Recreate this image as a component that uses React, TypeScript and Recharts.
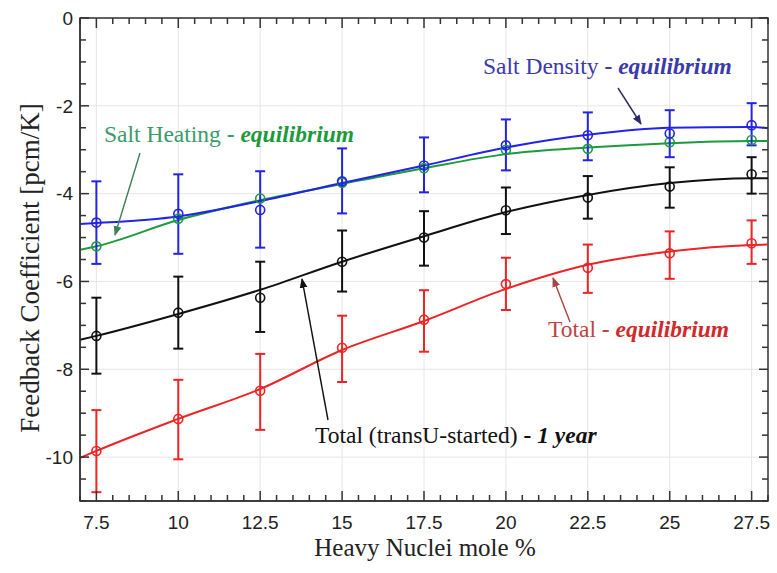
import React from 'react';
import {
  ComposedChart,
  Line,
  Scatter,
  ErrorBar,
  XAxis,
  YAxis,
  CartesianGrid,
  ReferenceArea,
} from 'recharts';

// x positions of the computed cases and of the fitted curves
const pointX = [7.5, 10, 12.5, 15, 17.5, 20, 22.5, 25, 27.5];
const curveX = [7, 7.5, 10, 12.5, 15, 17.5, 20, 22.5, 25, 27.5, 28];

// fitted curves (pcm/K)
const densityFit = [-4.69, -4.67, -4.52, -4.17, -3.76, -3.36, -2.95, -2.66, -2.5, -2.48, -2.51];
const heatingFit = [-5.28, -5.2, -4.6, -4.15, -3.78, -3.42, -3.1, -2.95, -2.85, -2.8, -2.8];
const transUFit = [-7.33, -7.24, -6.74, -6.19, -5.55, -4.97, -4.42, -4.03, -3.76, -3.65, -3.65];
const totalFit = [-10.02, -9.86, -9.13, -8.45, -7.56, -6.9, -6.17, -5.62, -5.32, -5.17, -5.16];

// computed points with error bar ends
const densityY = [-4.66, -4.46, -4.37, -3.72, -3.36, -2.9, -2.67, -2.63, -2.44];
const densityHi = [-3.72, -3.56, -3.49, -2.97, -2.72, -2.31, -2.15, -2.1, -1.94];
const densityLo = [-5.6, -5.37, -5.23, -4.45, -3.97, -3.47, -3.24, -3.17, -2.9];

const heatingY = [-5.2, -4.57, -4.11, -3.75, -3.42, -3.0, -2.98, -2.83, -2.78];

const transUY = [-7.24, -6.71, -6.37, -5.55, -5.0, -4.38, -4.09, -3.84, -3.56];
const transUHi = [-6.37, -5.89, -5.55, -4.84, -4.4, -3.86, -3.6, -3.4, -3.17];
const transULo = [-8.1, -7.53, -7.15, -6.23, -5.64, -4.92, -4.57, -4.32, -4.0];

const totalY = [-9.86, -9.13, -8.49, -7.51, -6.87, -6.06, -5.69, -5.36, -5.13];
const totalHi = [-8.93, -8.24, -7.65, -6.78, -6.2, -5.46, -5.16, -4.86, -4.61];
const totalLo = [-10.8, -10.05, -9.38, -8.29, -7.6, -6.65, -6.26, -5.94, -5.6];

// axis ticks
const xMajor = [7.5, 10, 12.5, 15, 17.5, 20, 22.5, 25, 27.5];
const yMajor = [0, -2, -4, -6, -8, -10];
const xTicks: number[] = [];
for (let v = 7; v <= 28; v += 0.5) xTicks.push(v);
const yTicks: number[] = [];
for (let v = -11; v <= 0; v += 0.5) yTicks.push(v);

const W = 777;
const H = 573;
const MARGIN = { top: 18, right: 9, bottom: 0, left: 20 };
const Y_AXIS_W = 60;
const X_AXIS_H = 72;
// plot box size, used to mirror the tick marks onto the top and right edges
const PLOT_W = W - MARGIN.left - MARGIN.right - Y_AXIS_W;
const PLOT_H = H - MARGIN.top - MARGIN.bottom - X_AXIS_H;

const BLUE = '#2323e8';
const GREEN = '#1d9a3c';
const BLACK = '#111111';
const RED = '#ee2424';
const AXIS = '#333333';
const SANS = '"Liberation Sans", Arial, sans-serif';
const SERIF = '"Liberation Serif", "Times New Roman", serif';

const toCurve = (ys: number[]) => curveX.map((x, i) => ({ x, y: ys[i] }));
const toPoints = (ys: number[], hi?: number[], lo?: number[]) =>
  pointX.map((x, i) => ({
    x,
    y: ys[i],
    err: hi && lo ? [ys[i] - lo[i], hi[i] - ys[i]] : [0, 0],
  }));

const openDot = (color: string) => (p: any) => (
  <circle cx={p.cx} cy={p.cy} r={4.5} fill="none" stroke={color} strokeWidth={1.6} />
);

function BottomTick(props: any) {
  const { x, y, payload } = props;
  const major = xMajor.includes(payload.value);
  const len = major ? 10 : 6;
  const top = y - PLOT_H;
  return (
    <g>
      <line x1={x} x2={x} y1={y} y2={y - len} stroke={AXIS} strokeWidth={1.5} />
      <line x1={x} x2={x} y1={top} y2={top + len} stroke={AXIS} strokeWidth={1.5} />
      {major && (
        <text x={x} y={y + 28} textAnchor="middle" fontSize={19} fontFamily={SANS} fill="#222">
          {payload.value}
        </text>
      )}
    </g>
  );
}

function LeftTick(props: any) {
  const { x, y, payload } = props;
  const major = yMajor.includes(payload.value);
  const len = major ? 9 : 6;
  const right = x + PLOT_W;
  return (
    <g>
      <line x1={x} x2={x + len} y1={y} y2={y} stroke={AXIS} strokeWidth={1.5} />
      <line x1={right} x2={right - len} y1={y} y2={y} stroke={AXIS} strokeWidth={1.5} />
      {major && (
        <text x={x - 7} y={y} dy="0.36em" textAnchor="end" fontSize={19} fontFamily={SANS} fill="#222">
          {payload.value}
        </text>
      )}
    </g>
  );
}

function Notes() {
  const fs = 23.5;
  return (
    <svg width={W} height={H} style={{ position: 'absolute', left: 0, top: 0, pointerEvents: 'none' }}>
      <defs>
        {[
          ['ahBlue', '#2b2b66'],
          ['ahGreen', '#3f7f5a'],
          ['ahBlack', '#111'],
          ['ahRed', '#a44'],
        ].map(([id, c]) => (
          <marker key={id} id={id} viewBox="0 0 10 10" refX="9" refY="5" markerWidth="7" markerHeight="7" orient="auto">
            <path d="M0,1 L10,5 L0,9 z" fill={c} />
          </marker>
        ))}
      </defs>
      <text x={483} y={74} fontSize={fs} fontFamily={SERIF} fill="#3a3aaa">
        Salt Density <tspan fontWeight="bold">-</tspan>{' '}
        <tspan fontWeight="bold" fontStyle="italic">equilibrium</tspan>
      </text>
      <line x1={618} y1={88} x2={641} y2={124} stroke="#2b2b66" strokeWidth={1.4} markerEnd="url(#ahBlue)" />

      <text x={104} y={142} fontSize={fs} fontFamily={SERIF} fill="#3c9a6a">
        Salt Heating <tspan fontWeight="bold">-</tspan>{' '}
        <tspan fontWeight="bold" fontStyle="italic" fill={GREEN}>equilibrium</tspan>
      </text>
      <line x1={140} y1={153} x2={115} y2={235} stroke="#3f7f5a" strokeWidth={1.4} markerEnd="url(#ahGreen)" />

      <text x={315} y={443} fontSize={fs} fontFamily={SERIF} fill="#111">
        Total (transU-started) <tspan fontWeight="bold">-</tspan>{' '}
        <tspan fontWeight="bold" fontStyle="italic">1 year</tspan>
      </text>
      <line x1={328} y1={420} x2={302} y2={279} stroke="#111" strokeWidth={1.4} markerEnd="url(#ahBlack)" />

      <text x={548} y={337} fontSize={fs} fontFamily={SERIF} fill="#c04444">
        Total <tspan fontWeight="bold">-</tspan>{' '}
        <tspan fontWeight="bold" fontStyle="italic" fill="#d02a2a">equilibrium</tspan>
      </text>
      <line x1={570} y1={322} x2={553} y2={278} stroke="#a44" strokeWidth={1.4} markerEnd="url(#ahRed)" />

      <text x={425} y={556} textAnchor="middle" fontSize={25} fontFamily={SERIF} fill="#222">
        Heavy Nuclei mole %
      </text>
      <text
        x={0}
        y={0}
        transform="translate(39,268) rotate(-90)"
        textAnchor="middle"
        fontSize={27}
        fontFamily={SERIF}
        fill="#222"
      >
        Feedback Coefficient [pcm/K]
      </text>
    </svg>
  );
}

export default function App() {
  const axisLine = { stroke: AXIS, strokeWidth: 1.5 };
  return (
    <div style={{ position: 'absolute', left: 0, top: 0, width: W, height: H, background: '#fff' }}>
      <ComposedChart width={W} height={H} margin={MARGIN}>
        <CartesianGrid verticalValues={xMajor} horizontalValues={yMajor} stroke="#e6e6e6" />
        <XAxis
          type="number"
          dataKey="x"
          domain={[7, 28]}
          ticks={xTicks}
          interval={0}
          height={X_AXIS_H}
          tickSize={0}
          tickMargin={0}
          tickLine={false}
          axisLine={axisLine}
          tick={<BottomTick />}
          allowDataOverflow
        />
        <YAxis
          type="number"
          dataKey="y"
          domain={[-11, 0]}
          ticks={yTicks}
          interval={0}
          width={Y_AXIS_W}
          tickSize={0}
          tickMargin={0}
          tickLine={false}
          axisLine={axisLine}
          tick={<LeftTick />}
          allowDataOverflow
        />
        <ReferenceArea x1={7} x2={28} y1={-11} y2={0} fill="none" stroke={AXIS} strokeWidth={1.5} ifOverflow="visible" />

        <Line data={toCurve(heatingFit)} dataKey="y" type="monotone" stroke={GREEN} strokeWidth={2} dot={false} isAnimationActive={false} />
        <Line data={toCurve(densityFit)} dataKey="y" type="monotone" stroke={BLUE} strokeWidth={2} dot={false} isAnimationActive={false} />
        <Line data={toCurve(transUFit)} dataKey="y" type="monotone" stroke={BLACK} strokeWidth={2} dot={false} isAnimationActive={false} />
        <Line data={toCurve(totalFit)} dataKey="y" type="monotone" stroke={RED} strokeWidth={2} dot={false} isAnimationActive={false} />

        <Scatter data={toPoints(heatingY)} dataKey="y" shape={openDot(GREEN)} isAnimationActive={false} />
        <Scatter data={toPoints(densityY, densityHi, densityLo)} dataKey="y" shape={openDot(BLUE)} isAnimationActive={false}>
          <ErrorBar dataKey="err" direction="y" width={5} stroke={BLUE} strokeWidth={2} />
        </Scatter>
        <Scatter data={toPoints(transUY, transUHi, transULo)} dataKey="y" shape={openDot(BLACK)} isAnimationActive={false}>
          <ErrorBar dataKey="err" direction="y" width={5} stroke={BLACK} strokeWidth={2} />
        </Scatter>
        <Scatter data={toPoints(totalY, totalHi, totalLo)} dataKey="y" shape={openDot(RED)} isAnimationActive={false}>
          <ErrorBar dataKey="err" direction="y" width={5} stroke={RED} strokeWidth={2} />
        </Scatter>
      </ComposedChart>
      <Notes />
    </div>
  );
}
